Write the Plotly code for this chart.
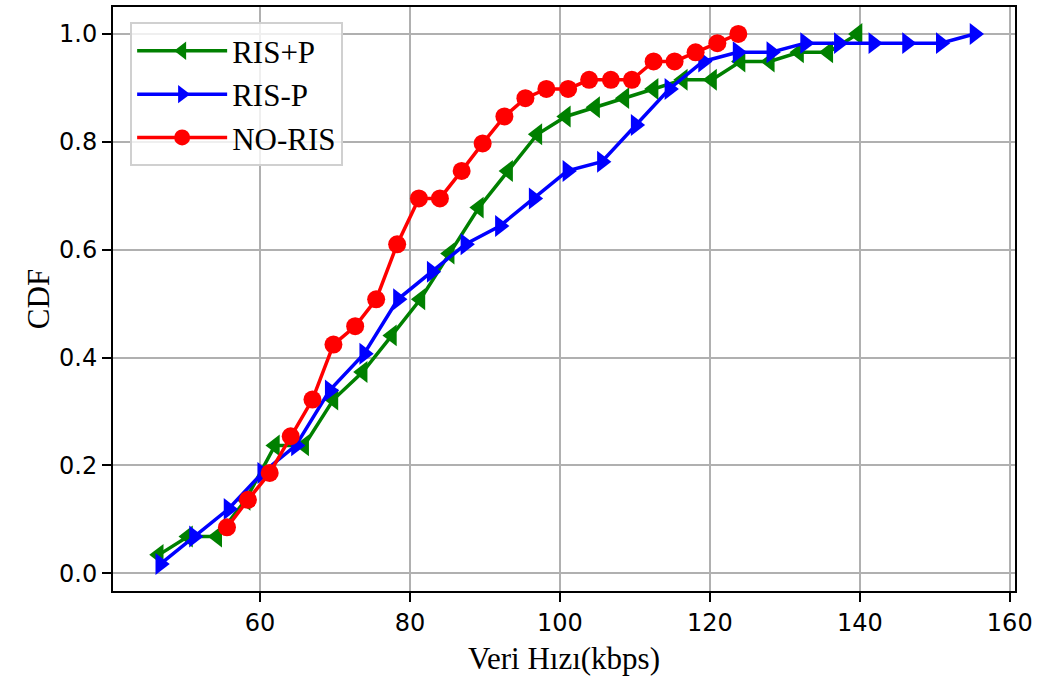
import plotly.graph_objects as go

# RIS+P (green, left triangles)
ris_p_plus_x = [46.5, 50.4, 54.3, 58.1, 62.0, 65.9, 69.8, 73.7, 77.6, 81.4, 85.3, 89.2, 93.1,
                97.0, 100.8, 104.7, 108.6, 112.5, 116.4, 120.3, 124.1, 128.0, 131.9, 135.8, 139.7]
ris_p_plus_y = [0.034, 0.068, 0.068, 0.136, 0.237, 0.237, 0.322, 0.373, 0.441, 0.508, 0.593, 0.678, 0.746,
                0.814, 0.847, 0.864, 0.881, 0.898, 0.915, 0.915, 0.949, 0.949, 0.966, 0.966, 1.0]

# RIS-P (blue, right triangles)
ris_p_minus_x = [46.7, 51.2, 55.8, 60.3, 64.8, 69.3, 73.9, 78.4, 82.9, 87.4, 92.0, 96.5, 101.0,
                 105.6, 110.1, 114.6, 119.1, 123.7, 128.2, 132.7, 137.2, 141.8, 146.3, 150.8, 155.3]
ris_p_minus_y = [0.017, 0.068, 0.119, 0.186, 0.237, 0.339, 0.407, 0.508, 0.559, 0.610, 0.644, 0.695, 0.746,
                 0.763, 0.831, 0.898, 0.949, 0.966, 0.966, 0.983, 0.983, 0.983, 0.983, 0.983, 1.0]

# NO-RIS (red, circles)
no_ris_x = [55.6, 58.4, 61.3, 64.1, 67.0, 69.8, 72.7, 75.5, 78.3, 81.2, 84.0, 86.9, 89.7,
            92.6, 95.4, 98.2, 101.1, 103.9, 106.8, 109.6, 112.5, 115.3, 118.1, 121.0, 123.8]
no_ris_y = [0.085, 0.136, 0.186, 0.254, 0.322, 0.424, 0.458, 0.508, 0.610, 0.695, 0.695, 0.746, 0.797,
            0.847, 0.881, 0.898, 0.898, 0.915, 0.915, 0.915, 0.949, 0.949, 0.966, 0.983, 1.0]

x_ticks = [60, 80, 100, 120, 140, 160]
y_ticks = [0.0, 0.2, 0.4, 0.6, 0.8, 1.0]
y_tick_text = ["0.0", "0.2", "0.4", "0.6", "0.8", "1.0"]

fig = go.Figure()
fig.add_trace(go.Scatter(x=ris_p_plus_x, y=ris_p_plus_y, name="RIS+P", mode="lines+markers",
                         line=dict(color="green", width=3.5),
                         marker=dict(symbol="triangle-left", size=19, color="green", line=dict(width=0))))
fig.add_trace(go.Scatter(x=ris_p_minus_x, y=ris_p_minus_y, name="RIS-P", mode="lines+markers",
                         line=dict(color="blue", width=3.5),
                         marker=dict(symbol="triangle-right", size=19, color="blue", line=dict(width=0))))
fig.add_trace(go.Scatter(x=no_ris_x, y=no_ris_y, name="NO-RIS", mode="lines+markers",
                         line=dict(color="red", width=3.5),
                         marker=dict(symbol="circle", size=18, color="red", line=dict(width=0))))

serif = "Liberation Serif, Times New Roman, serif"
sans = "DejaVu Sans, sans-serif"

fig.update_layout(
    width=1043, height=686,
    paper_bgcolor="white", plot_bgcolor="white",
    margin=dict(l=113, r=28, t=5, b=95),
    showlegend=True,
    legend=dict(x=0.019, y=0.974, xanchor="left", yanchor="top",
                font=dict(family=serif, size=31, color="black"),
                bgcolor="rgba(255,255,255,0.8)", bordercolor="#d0d0d0", borderwidth=2,
                itemwidth=90),
)
fig.update_xaxes(
    range=[40.4, 160.7], tickvals=x_ticks, ticks="outside", ticklen=9, tickwidth=1.5, tickcolor="black",
    showgrid=True, gridcolor="#b0b0b0", gridwidth=2, zeroline=False,
    showline=True, linecolor="black", linewidth=2, mirror=True,
    tickfont=dict(family=sans, size=24, color="black"),
    title=dict(text="Veri Hızı(kbps)", font=dict(family=serif, size=31, color="black"), standoff=12),
)
fig.update_yaxes(
    range=[-0.033, 1.05], tickvals=y_ticks, ticktext=y_tick_text, ticks="outside", ticklen=9, tickwidth=1.5,
    tickcolor="black",
    showgrid=True, gridcolor="#b0b0b0", gridwidth=2, zeroline=False,
    showline=True, linecolor="black", linewidth=2, mirror=True,
    tickfont=dict(family=sans, size=24, color="black"),
    title=dict(text="CDF", font=dict(family=serif, size=31, color="black"), standoff=0),
)

fig.write_html("out.html", config={"displayModeBar": False},
               post_script="document.body.style.margin='0';")
